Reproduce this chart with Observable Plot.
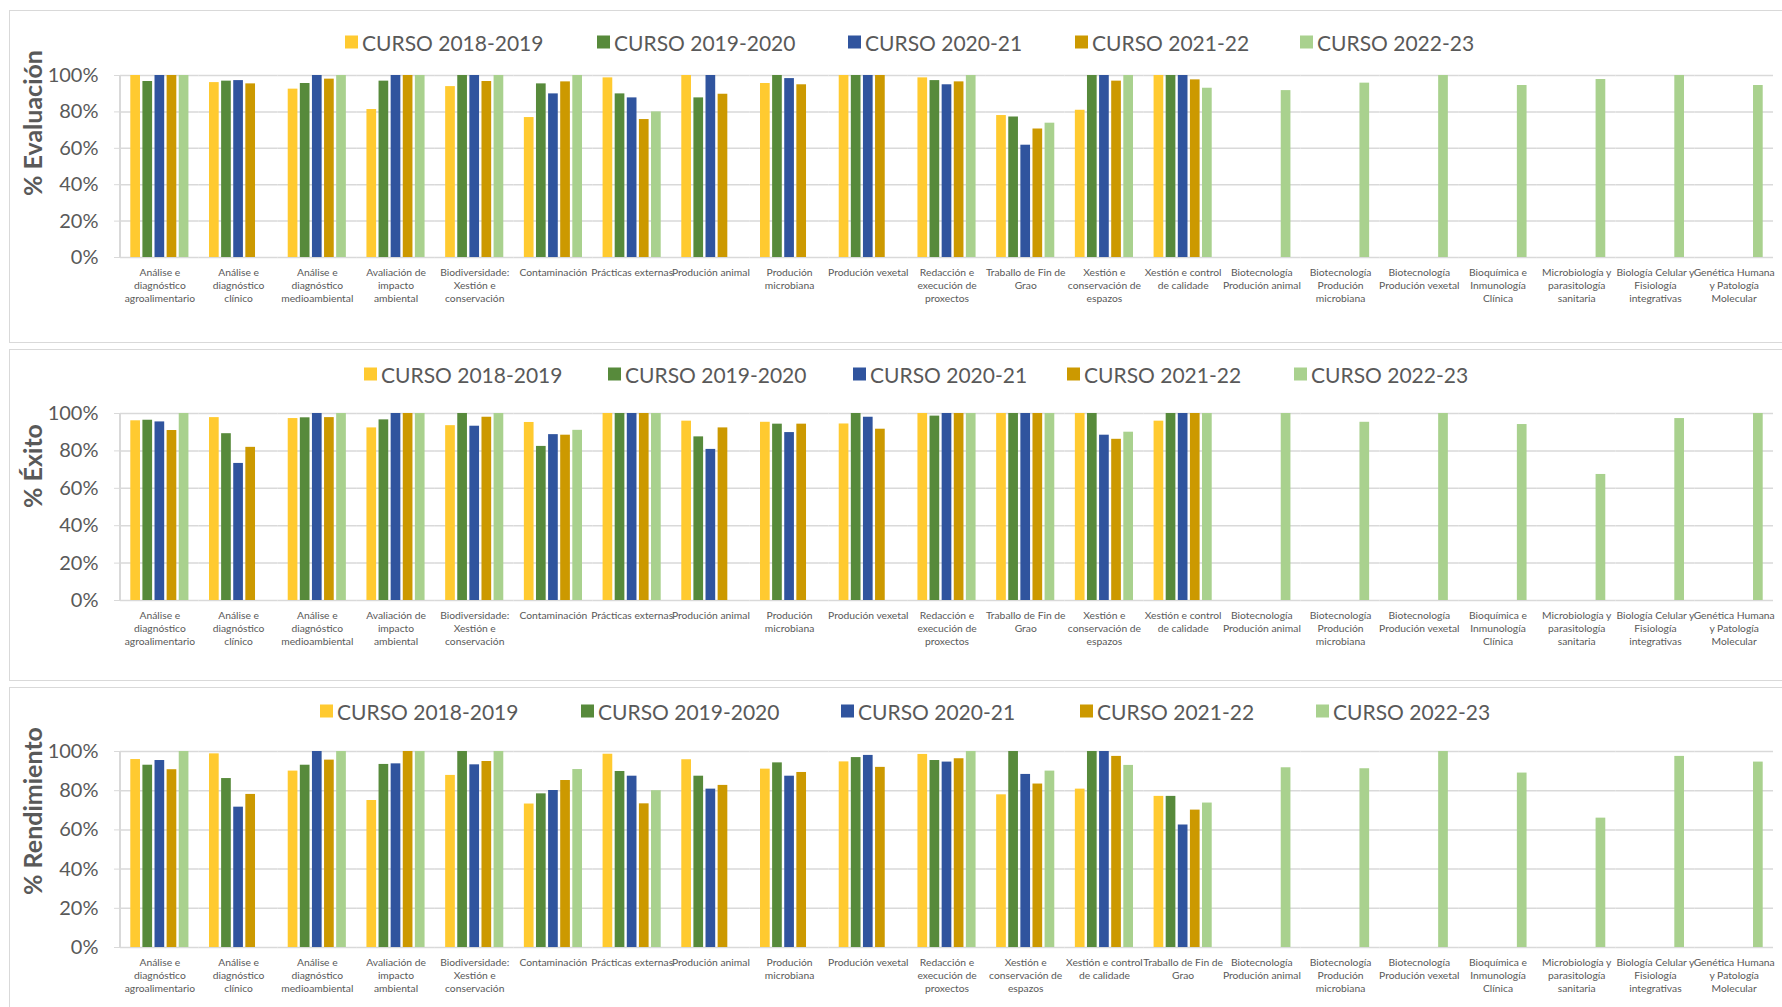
<!DOCTYPE html>
<html><head><meta charset="utf-8">
<script src="https://cdn.jsdelivr.net/npm/d3@7"></script>
<script src="https://cdn.jsdelivr.net/npm/@observablehq/plot@0.6"></script>
<style>
body{margin:0;background:#fff;font-family:Lato, sans-serif;}
#root{position:relative;width:1782px;height:1007px;overflow:hidden;background:#fff;}
.panel{position:absolute;border:1.5px solid #d9d9d9;box-sizing:border-box;}
.legend-item{position:absolute;display:flex;align-items:center;font-size:21px;color:#595959;white-space:nowrap;transform:translateY(-50%);}
.sw{width:13px;height:13px;margin-right:4px;flex:none;}
.ytitle{position:absolute;font-weight:bold;font-size:25px;color:#595959;white-space:nowrap;transform:translate(-50%,-50%) rotate(-90deg);}
.vaxis{position:absolute;width:1.5px;background:#d9d9d9;}
.plotwrap{position:absolute;left:0;}
</style></head><body><div id="root"></div>
<script>
// ---------- DATA ----------
const series = ["CURSO 2018-2019","CURSO 2019-2020","CURSO 2020-21","CURSO 2021-22","CURSO 2022-23"];
const colors = ["#FFCA30","#578A3B","#30549E","#CC9900","#A9D18E"];
const yTicks = [0,20,40,60,80,100];

const categories = [
  "Análise e\ndiagnóstico\nagroalimentario",
  "Análise e\ndiagnóstico\nclínico",
  "Análise e\ndiagnóstico\nmedioambiental",
  "Avaliación de\nimpacto\nambiental",
  "Biodiversidade:\nXestión e\nconservación",
  "Contaminación",
  "Prácticas externas",
  "Produción animal",
  "Produción\nmicrobiana",
  "Produción vexetal",
  "Redacción e\nexecución de\nproxectos",
  "Traballo de Fin de\nGrao",
  "Xestión e\nconservación de\nespazos",
  "Xestión e control\nde calidade",
  "Biotecnología\nProdución animal",
  "Biotecnología\nProdución\nmicrobiana",
  "Biotecnología\nProdución vexetal",
  "Bioquímica e\nInmunología\nClínica",
  "Microbiología y\nparasitología\nsanitaria",
  "Biología Celular y\nFisiología\nintegrativas",
  "Genética Humana\ny Patología\nMolecular"
];
// Rendimiento chart uses a different order
const categoriesRend = [
  "Análise e\ndiagnóstico\nagroalimentario",
  "Análise e\ndiagnóstico\nclínico",
  "Análise e\ndiagnóstico\nmedioambiental",
  "Avaliación de\nimpacto\nambiental",
  "Biodiversidade:\nXestión e\nconservación",
  "Contaminación",
  "Prácticas externas",
  "Produción animal",
  "Produción\nmicrobiana",
  "Produción vexetal",
  "Redacción e\nexecución de\nproxectos",
  "Xestión e\nconservación de\nespazos",
  "Xestión e control\nde calidade",
  "Traballo de Fin de\nGrao",
  "Biotecnología\nProdución animal",
  "Biotecnología\nProdución\nmicrobiana",
  "Biotecnología\nProdución vexetal",
  "Bioquímica e\nInmunología\nClínica",
  "Microbiología y\nparasitología\nsanitaria",
  "Biología Celular y\nFisiología\nintegrativas",
  "Genética Humana\ny Patología\nMolecular"
];
const N = null;
// % Evaluación
const evaluacion2018 = [100,96.1,92.5,81.3,93.9,76.9,98.7,100,95.6,100,98.7,78.0,80.9,100,N,N,N,N,N,N,N];
const evaluacion2019 = [96.7,96.9,95.6,96.9,100,95.4,89.9,87.7,100,100,97.2,77.2,100,100,N,N,N,N,N,N,N];
const evaluacion2020 = [100,97.2,100,100,100,89.9,87.7,100,98.3,100,94.9,61.7,100,100,N,N,N,N,N,N,N];
const evaluacion2021 = [100,95.4,98.0,100,96.7,96.5,75.8,89.7,94.9,100,96.5,70.6,96.9,97.6,N,N,N,N,N,N,N];
const evaluacion2022 = [100,N,100,100,100,100,80.0,N,N,N,100,73.8,100,93.0,91.7,95.8,100,94.5,97.8,100,94.5];
// % Éxito
const exito2018 = [96.1,97.8,97.3,92.3,93.5,95.2,100,95.9,95.3,94.4,100,100,100,95.9,N,N,N,N,N,N,N];
const exito2019 = [96.4,89.2,97.7,96.6,100,82.4,100,87.5,94.3,100,98.6,100,100,100,N,N,N,N,N,N,N];
const exito2020 = [95.5,73.3,100,100,93.2,88.7,100,80.8,89.8,98.0,100,100,88.4,100,N,N,N,N,N,N,N];
const exito2021 = [90.9,81.9,97.8,100,98.0,88.4,100,92.3,94.3,91.6,100,100,86.2,100,N,N,N,N,N,N,N];
const exito2022 = [100,N,100,100,100,91.0,100,N,N,N,100,100,90.0,100,100,95.3,100,94.1,67.4,97.3,100];
// % Rendimiento (categoriesRend order)
const rend2018 = [95.9,98.8,90.0,75.0,87.8,73.2,98.6,95.8,91.0,94.7,98.5,77.9,80.8,77.1,N,N,N,N,N,N,N];
const rend2019 = [93.0,86.2,93.0,93.4,100,78.4,89.8,87.4,94.2,96.9,95.4,100,100,77.1,N,N,N,N,N,N,N];
const rend2020 = [95.4,71.6,100,93.7,93.2,80.1,87.4,80.8,87.4,98.0,94.6,88.3,100,62.5,N,N,N,N,N,N,N];
const rend2021 = [90.7,78.1,95.6,100,94.9,85.2,73.3,82.7,89.3,91.9,96.3,83.4,97.5,70.1,N,N,N,N,N,N,N];
const rend2022 = [100,N,100,100,100,90.8,80.0,N,N,N,100,90.0,92.9,73.7,91.7,91.2,100,89.0,66.0,97.5,94.6];

// ---------- LAYOUT ----------
const panels = [
  {title:"% Evaluación", cats:categories, values:[evaluacion2018,evaluacion2019,evaluacion2020,evaluacion2021,evaluacion2022],
   box:[9,10,1790,343], plotTop:75, plotBottom:257, legendY:42, legendX:[345,597,848,1075,1300], titleY:123},
  {title:"% Éxito", cats:categories, values:[exito2018,exito2019,exito2020,exito2021,exito2022],
   box:[9,349,1790,681], plotTop:413, plotBottom:600, legendY:374, legendX:[364,608,853,1067,1294], titleY:466},
  {title:"% Rendimiento", cats:categoriesRend, values:[rend2018,rend2019,rend2020,rend2021,rend2022],
   box:[9,687,1790,1020], plotTop:751, plotBottom:947, legendY:711, legendX:[320,581,841,1080,1316], titleY:811}
];
const plotLeft = 120, plotRight = 1773, W = 1782, mTop = 10, mBottom = 70;

const root = document.getElementById("root");

function makePlot(cats, values, plotH) {
  const data = [];
  series.forEach((s, i) => cats.forEach((c, j) => {
    const v = values[i][j];
    if (v != null) data.push({cat: c, series: s, value: v});
  }));
  return Plot.plot({
    width: W, height: plotH + mTop + mBottom,
    marginLeft: plotLeft, marginRight: W - plotRight, marginTop: mTop, marginBottom: mBottom,
    style: {fontFamily: "Lato, sans-serif", background: "transparent", overflow: "visible"},
    fx: {domain: cats, padding: 0, round: false},
    x: {domain: series, paddingInner: 0.2, paddingOuter: 0.85, round: false, axis: null},
    y: {domain: [0, 100]},
    color: {domain: series, range: colors},
    marks: [
      Plot.gridY(yTicks, {stroke: "#d9d9d9", strokeOpacity: 1, strokeWidth: 1.5}),
      Plot.barY(data, {fx: "cat", x: "series", y: "value", fill: "series"}),
      Plot.axisY(yTicks, {tickSize: 6, tickPadding: 16, stroke: "#d9d9d9", fill: "#595959", fontSize: 20, tickFormat: d => d + "%", label: null}),
      Plot.axisFx({anchor: "bottom", tickSize: 0, tickPadding: 9, fontSize: 10.3, lineHeight: 1.26, fill: "#595959", label: null})
    ]
  });
}

panels.forEach(p => {
  const box = document.createElement("div");
  box.className = "panel";
  box.style.left = p.box[0] + "px"; box.style.top = p.box[1] + "px";
  box.style.width = (p.box[2] - p.box[0]) + "px"; box.style.height = (p.box[3] - p.box[1]) + "px";
  root.appendChild(box);

  const wrap = document.createElement("div");
  wrap.className = "plotwrap";
  wrap.style.top = (p.plotTop - mTop) + "px";
  wrap.appendChild(makePlot(p.cats, p.values, p.plotBottom - p.plotTop));
  root.appendChild(wrap);

  const va = document.createElement("div");
  va.className = "vaxis";
  va.style.left = (plotLeft - 0.75) + "px"; va.style.top = p.plotTop + "px";
  va.style.height = (p.plotBottom - p.plotTop) + "px";
  root.appendChild(va);

  series.forEach((s, i) => {
    const it = document.createElement("div");
    it.className = "legend-item";
    it.style.left = p.legendX[i] + "px"; it.style.top = p.legendY + "px";
    const sw = document.createElement("span");
    sw.className = "sw"; sw.style.background = colors[i];
    const tx = document.createElement("span");
    tx.textContent = s;
    it.appendChild(sw); it.appendChild(tx);
    root.appendChild(it);
  });

  const t = document.createElement("div");
  t.className = "ytitle";
  t.textContent = p.title;
  t.style.left = "32px"; t.style.top = p.titleY + "px";
  root.appendChild(t);
});
</script></body></html>
